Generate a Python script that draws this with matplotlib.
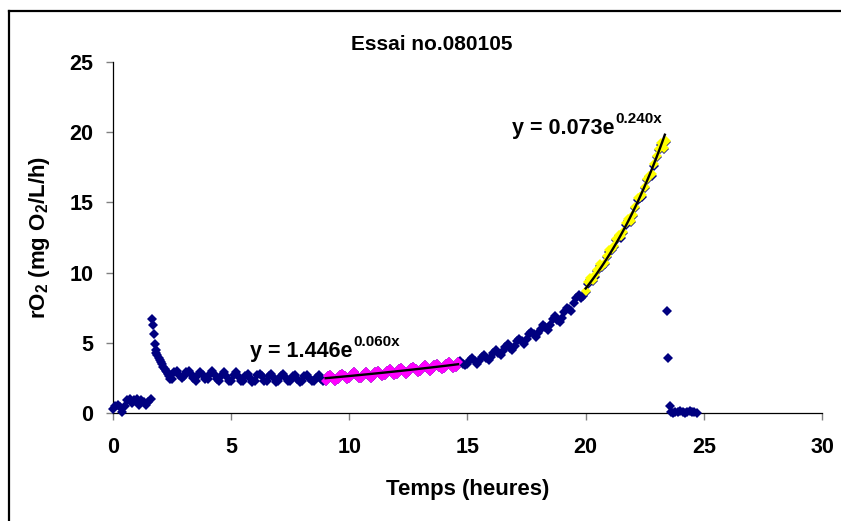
import numpy as np
import matplotlib
matplotlib.use("Agg")
import matplotlib.pyplot as plt
from matplotlib.lines import Line2D

plt.rcParams['font.family'] = ['Liberation Sans', 'DejaVu Sans']
plt.rcParams['font.weight'] = 'bold'
plt.rcParams['mathtext.fontset'] = 'custom'
plt.rcParams['mathtext.rm'] = 'Liberation Sans:bold'
plt.rcParams['mathtext.bf'] = 'Liberation Sans:bold'
plt.rcParams['mathtext.it'] = 'Liberation Sans:bold'

# ---- data ----
t_start = [0.0, 0.1, 0.2, 0.3, 0.4, 0.5, 0.6, 0.7, 0.8, 0.9, 1.0, 1.1, 1.2, 1.3, 1.4, 1.5, 1.6]
r_start = [0.3, 0.5, 0.6, 0.4, 0.1, 0.5, 0.9, 1.0, 0.7, 0.9, 1.0, 0.6, 0.9, 0.8, 0.6, 0.8, 1.0]

t_spike = [1.66, 1.70, 1.74, 1.77, 1.80, 1.84, 1.88, 1.93, 1.98, 2.03, 2.08, 2.13,
           2.18, 2.23, 2.28, 2.33, 2.38, 2.43]
r_spike = [6.7, 6.3, 5.6, 4.9, 4.5, 4.3, 4.1, 3.9, 3.8, 3.6, 3.5, 3.3,
           3.1, 3.0, 2.9, 2.8, 2.6, 2.4]

t_base0 = 2.5   # 0.1 h sampling
r_base = [2.4, 2.9, 3.0, 2.7, 2.5,
          2.6, 2.9, 3.0, 2.8, 2.5, 2.3, 2.7, 2.9, 2.7, 2.4,
          2.4, 2.8, 3.0, 2.7, 2.4, 2.3, 2.7, 2.9, 2.6, 2.3,
          2.3, 2.7, 2.9, 2.6, 2.3, 2.3, 2.6, 2.8, 2.5, 2.2,
          2.3, 2.7, 2.8, 2.6, 2.3, 2.3, 2.6, 2.8, 2.5, 2.2,
          2.3, 2.6, 2.8, 2.5, 2.3, 2.3, 2.6, 2.7, 2.4, 2.2,
          2.3, 2.6, 2.7, 2.5, 2.3, 2.3, 2.5, 2.7, 2.4, 2.3]

t_mag0 = 9.0
r_magenta = [2.3, 2.6, 2.7, 2.5, 2.3, 2.4, 2.7, 2.8, 2.6, 2.4,
             2.5, 2.8, 2.9, 2.7, 2.5, 2.5, 2.8, 2.9, 2.7, 2.5,
             2.6, 2.9, 3.0, 2.8, 2.6, 2.7, 3.0, 3.1, 2.9, 2.7,
             2.8, 3.1, 3.2, 3.0, 2.8, 2.9, 3.2, 3.3, 3.1, 2.9,
             3.0, 3.3, 3.4, 3.2, 3.0, 3.1, 3.4, 3.5, 3.3, 3.1,
             3.2, 3.5, 3.6, 3.4, 3.2, 3.3, 3.6]

t_rise0 = 14.7
r_rise = [3.7, 3.5, 3.4,
          3.5, 3.8, 3.9, 3.7, 3.5, 3.7, 4.0, 4.1, 3.9, 3.8,
          4.0, 4.3, 4.5, 4.3, 4.1, 4.4, 4.7, 4.9, 4.6, 4.5,
          4.8, 5.1, 5.3, 5.1, 4.9, 5.3, 5.6, 5.8, 5.6, 5.4,
          5.7, 6.0, 6.3, 6.1, 5.9, 6.3, 6.7, 6.9, 6.6, 6.5,
          6.8, 7.2, 7.5, 7.4, 7.3, 7.8, 8.2, 8.4, 8.2, 8.3]

t_yel0 = 20.0
r_yellow = [8.6, 9.2, 9.5, 9.4, 9.7, 10.1, 10.5, 10.4, 10.6, 11.1,
            11.5, 11.6, 11.8, 12.3, 12.6, 12.5, 12.8, 13.4, 13.7, 13.6,
            14.0, 14.6, 15.2, 15.3, 15.4, 16.0, 16.6, 16.8, 16.9, 17.6,
            18.2, 18.7, 19.1, 18.8, 19.3]

t_end = [23.45, 23.50, 23.55, 23.60, 23.70, 23.80, 23.90, 24.00, 24.10, 24.20,
         24.30, 24.40, 24.50, 24.60, 24.70]
r_end = [7.3, 3.9, 0.5, 0.1, 0.0, 0.1, 0.05, 0.15, 0.1, 0.0,
         0.1, 0.15, 0.05, 0.1, 0.0]

fit1_a, fit1_b, fit1_range = 1.446, 0.060, (9.0, 14.6)
fit2_a, fit2_b, fit2_range = 0.073, 0.240, (20.0, 23.35)

x_ticks = [0, 5, 10, 15, 20, 25, 30]
y_ticks = [0, 5, 10, 15, 20, 25]

# ---- build series ----
t_base = np.round(t_base0 + 0.1 * np.arange(len(r_base)), 2)
t_mag = np.round(t_mag0 + 0.1 * np.arange(len(r_magenta)), 2)
t_rise = np.round(t_rise0 + 0.1 * np.arange(len(r_rise)), 2)
t_yel = np.round(t_yel0 + 0.1 * np.arange(len(r_yellow)), 2)

t_all = np.concatenate([t_start, t_spike, t_base, t_mag, t_rise, t_yel, t_end])
r_all = np.concatenate([r_start, r_spike, r_base, r_magenta, r_rise, r_yellow, r_end])

fig = plt.figure(figsize=(8.41, 5.21), dpi=100)
ax = fig.add_axes([113/841, 108/521, 709/841, 351/521])

navy = '#000080'
ms = 4.6
ax.plot(t_all, r_all, 'D', color=navy, ms=ms, mew=0, clip_on=False, zorder=3)
ax.plot(t_mag, r_magenta, 'D', color='#FF00FF', ms=ms, mew=0, clip_on=False, zorder=4)
ax.plot(t_yel, np.array(r_yellow) + 0.1, 'D', color='#FFFF00', ms=ms, mew=0,
        clip_on=False, zorder=4)

xf1 = np.linspace(*fit1_range, 100)
ax.plot(xf1, fit1_a * np.exp(fit1_b * xf1), color='black', lw=1.7, zorder=5)
xf2 = np.linspace(*fit2_range, 100)
ax.plot(xf2, fit2_a * np.exp(fit2_b * xf2), color='black', lw=1.7, zorder=5)

ax.set_xlim(0, 30)
ax.set_ylim(0, 25)
ax.set_xticks(x_ticks)
ax.set_yticks(y_ticks)
ax.set_xticklabels([str(v) for v in x_ticks])
ax.set_yticklabels([str(v) for v in y_ticks])
for s in ['top', 'right']:
    ax.spines[s].set_visible(False)
for s in ['left', 'bottom']:
    ax.spines[s].set_color('black')
    ax.spines[s].set_linewidth(0.9)
ax.tick_params(axis='x', direction='out', length=5, width=1, color='#808080',
               labelsize=15.5, pad=12)
ax.tick_params(axis='y', direction='out', length=5, width=1, color='#808080',
               labelsize=15.5, pad=9)
for lab in ax.get_xticklabels() + ax.get_yticklabels():
    lab.set_fontweight('bold')

fig.text(432/841, 1 - 44/521, 'Essai no.080105', ha='center', va='center',
         fontsize=15, fontweight='bold')
fig.text(467.5/841, 1 - 490/521, 'Temps (heures)', ha='center', va='center',
         fontsize=16, fontweight='bold')
fig.text(40/841, 1 - 237/521, r'rO$_2$ (mg O$_2$/L/h)', ha='center', va='center',
         rotation=90, fontsize=16, fontweight='bold')

# trendline equations: main part + superscript drawn separately
renderer = fig.canvas.get_renderer()
for (px, py, base, sup) in [(250, 357, 'y = 1.446e', '0.060x'),
                            (512, 134, 'y = 0.073e', '0.240x')]:
    t = fig.text(px/841, 1 - py/521, base, ha='left', va='baseline',
                 fontsize=15.5, fontweight='bold')
    bb = t.get_window_extent(renderer)
    fig.text((bb.x1 + 1)/841, (521 - py + 11)/521, sup, ha='left', va='baseline',
             fontsize=11, fontweight='bold')

# chart-area border (only top and left edges are visible in the crop)
fig.add_artist(Line2D([9/841, 1.0], [1 - 11/521, 1 - 11/521], color='black', lw=1.6,
                      transform=fig.transFigure))
fig.add_artist(Line2D([9/841, 9/841], [0.0, 1 - 11/521], color='black', lw=1.6,
                      transform=fig.transFigure))

fig.savefig('out.png', dpi=100, facecolor='white')
